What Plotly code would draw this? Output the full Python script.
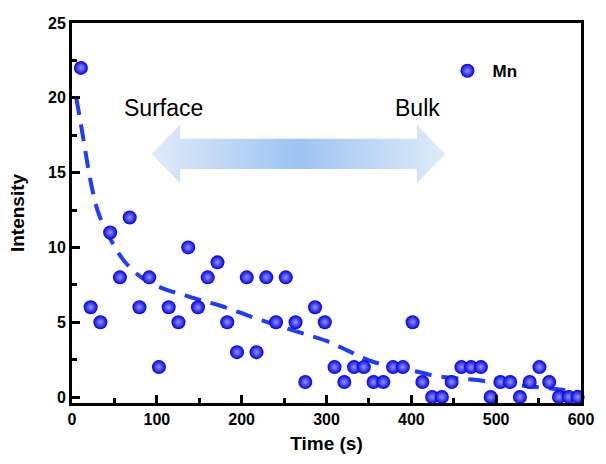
import base64
import plotly.graph_objects as go

# ---- data ----
time_s = [10.5, 22, 33.5, 45, 56.5, 68, 79.5, 91, 102.5, 114, 125.5, 137, 148.5,
          160, 171.5, 183, 194.5, 206, 217.5, 229, 240.5, 252, 263.5, 275, 286.5,
          298, 309.5, 321, 332.5, 344, 355.5, 367, 378.5, 390, 401.5, 413, 424.5,
          436, 447.5, 459, 470.5, 482, 493.5, 505, 516.5, 528, 539.5, 551, 562.5,
          574, 585.5, 596]
mn_intensity = [22, 6, 5, 11, 8, 12, 6, 8, 2, 6, 5, 10, 6,
                8, 9, 5, 3, 8, 3, 8, 5, 8, 5, 1, 6,
                5, 2, 1, 2, 2, 1, 1, 2, 2, 5, 1, 0,
                0, 1, 2, 2, 2, 0, 1, 1, 0, 1, 2, 1,
                0, 0, 0]

fit_time = [5, 10, 15, 20, 25, 30, 40, 50, 60, 75, 90, 110, 130, 150, 175, 200,
            225, 250, 275, 300, 325, 350, 375, 400, 425, 450, 475, 500, 525, 550,
            575, 600]
fit_intensity = [20.0, 18.4, 16.7, 15.0, 13.6, 12.5, 11.1, 10.1, 9.2, 8.3, 7.7,
                 7.2, 6.85, 6.5, 6.1, 5.6, 5.1, 4.65, 4.2, 3.75, 3.1, 2.45, 2.05,
                 1.8, 1.45, 1.27, 1.15, 0.95, 0.8, 0.65, 0.5, 0.3]

x_ticks = [0, 100, 200, 300, 400, 500, 600]
y_ticks = [0, 5, 10, 15, 20, 25]

FONT = "Arial, 'Liberation Sans', sans-serif"

fig = go.Figure()

fig.add_trace(go.Scatter(
    x=fit_time, y=fit_intensity, mode="lines", showlegend=False,
    line=dict(color="#1f3cff", width=4, dash="17px,10px", shape="spline"),
    hoverinfo="skip", cliponaxis=False,
))

fig.add_trace(go.Scatter(
    x=time_s, y=mn_intensity, mode="markers", name="Mn",
    marker=dict(size=14, color="#0000e6",
                gradient=dict(type="radial", color="#9494ff"),
                line=dict(width=0)),
    cliponaxis=False,
))

# gradient double arrow as an SVG image
svg = (
    '<svg xmlns="http://www.w3.org/2000/svg" width="300" height="58" '
    'viewBox="0 0 300 58" preserveAspectRatio="none">'
    '<defs><linearGradient id="g" x1="0" y1="0" x2="1" y2="0">'
    '<stop offset="0" stop-color="#e0ebf9"/>'
    '<stop offset="0.5" stop-color="#9dc3f2"/>'
    '<stop offset="1" stop-color="#e0ebf9"/>'
    '</linearGradient></defs>'
    '<polygon points="0,29 29,0 29,14 271,14 271,0 300,29 271,58 271,44 29,44 29,58" '
    'fill="url(#g)"/></svg>'
)
uri = "data:image/svg+xml;base64," + base64.b64encode(svg.encode()).decode()
fig.add_layout_image(dict(
    source=uri, xref="x", yref="y", x=94, y=18.2, sizex=346, sizey=3.9,
    xanchor="left", yanchor="top", sizing="stretch", layer="below",
))

fig.add_annotation(x=108, y=19.3, xref="x", yref="y", text="Surface",
                   showarrow=False, font=dict(family=FONT, size=23, color="black"))
fig.add_annotation(x=407, y=19.3, xref="x", yref="y", text="Bulk",
                   showarrow=False, font=dict(family=FONT, size=23, color="black"))

axis_common = dict(
    showline=True, linewidth=3, linecolor="black", mirror=True,
    ticks="inside", ticklen=8, tickwidth=2.5, tickcolor="black",
    showgrid=False, zeroline=False,
    tickfont=dict(family=FONT, size=16, color="black", weight="bold"),
)

fig.update_xaxes(
    range=[0, 600], tickvals=x_ticks, ticktext=[str(v) for v in x_ticks],
    minor=dict(dtick=50, ticks="inside", ticklen=5, tickwidth=2.5, tickcolor="black"),
    title=dict(text="Time (s)", font=dict(family=FONT, size=19, color="black", weight="bold"),
               standoff=10),
    **axis_common,
)
fig.update_yaxes(
    range=[-0.4, 25], tickvals=y_ticks, ticktext=[str(v) for v in y_ticks],
    minor=dict(dtick=2.5, tick0=0, ticks="inside", ticklen=5, tickwidth=2.5, tickcolor="black"),
    title=dict(text="Intensity", font=dict(family=FONT, size=19, color="black", weight="bold"),
               standoff=19),
    **axis_common,
)

fig.update_layout(
    width=606, height=464,
    margin=dict(l=72, r=14, t=23, b=61),
    paper_bgcolor="white", plot_bgcolor="white",
    font=dict(family=FONT, color="black"),
    legend=dict(x=0.885, y=0.873, xanchor="right", yanchor="middle",
                itemwidth=40,
                bgcolor="rgba(0,0,0,0)", borderwidth=0,
                font=dict(family=FONT, size=17, color="black", weight="bold")),
)

# remove the default 8px page margin so the figure sits at the window's corner
fig.write_html("out.html",
               config={"displayModeBar": False},
               post_script="document.body.style.margin='0px';document.body.style.overflow='hidden';")
